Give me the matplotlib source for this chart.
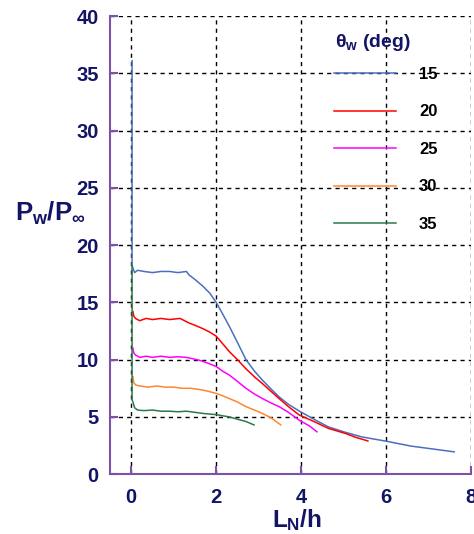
import matplotlib
matplotlib.use("Agg")
import matplotlib.pyplot as plt

plt.rcParams['font.family'] = ['Liberation Sans', 'DejaVu Sans']
plt.rcParams['mathtext.fontset'] = 'custom'
plt.rcParams['mathtext.rm'] = 'Liberation Sans:bold'
plt.rcParams['mathtext.it'] = 'Liberation Sans:bold'
plt.rcParams['mathtext.bf'] = 'Liberation Sans:bold'

# --- data (x = L_N/h, y = Pw/Pinf) ---
x15 = [0.02, 0.02, 0.04, 0.08, 0.15, 0.3, 0.5, 0.7, 0.9, 1.1, 1.3, 1.36, 1.5, 1.69, 1.85, 2.0,
       2.15, 2.31, 2.5, 2.70, 2.9, 3.09, 3.3, 3.48, 3.7, 3.96, 4.3, 4.64, 5.0, 5.42, 6.0, 6.59, 7.1, 7.6]
y15 = [36.1, 18.3, 18.0, 17.6, 17.8, 17.7, 17.6, 17.7, 17.7, 17.6, 17.7, 17.4, 17.0, 16.4, 15.8, 15.0,
       14.0, 12.9, 11.5, 10.0, 9.0, 8.2, 7.4, 6.75, 6.1, 5.5, 4.8, 4.13, 3.7, 3.26, 2.88, 2.45, 2.2, 1.95]

x20 = [0.04, 0.06, 0.1, 0.2, 0.35, 0.5, 0.7, 0.9, 1.15, 1.36, 1.5, 1.69, 1.85, 2.0, 2.15,
       2.31, 2.5, 2.7, 2.9, 3.09, 3.3, 3.48, 3.7, 3.96, 4.3, 4.64, 5.03, 5.3, 5.57]
y20 = [14.2, 13.8, 13.6, 13.4, 13.6, 13.5, 13.6, 13.5, 13.6, 13.2, 13.0, 12.7, 12.4, 12.05, 11.4,
       10.7, 10.0, 9.2, 8.5, 7.9, 7.2, 6.6, 5.9, 5.15, 4.6, 4.0, 3.57, 3.2, 2.9]

x25 = [0.04, 0.06, 0.1, 0.2, 0.35, 0.5, 0.7, 0.9, 1.1, 1.3, 1.6, 1.8, 2.0, 2.15, 2.31,
       2.5, 2.7, 2.9, 3.09, 3.3, 3.48, 3.7, 3.96, 4.2, 4.37]
y25 = [11.0, 10.6, 10.4, 10.2, 10.3, 10.2, 10.3, 10.2, 10.25, 10.2, 9.95, 9.7, 9.4, 9.0, 8.65,
       8.1, 7.5, 7.0, 6.6, 6.2, 5.9, 5.4, 4.7, 4.2, 3.7]

x30 = [0.04, 0.06, 0.1, 0.2, 0.4, 0.6, 0.8, 1.0, 1.2, 1.4, 1.6, 1.8, 2.0, 2.15, 2.31,
       2.5, 2.70, 2.9, 3.09, 3.3, 3.52]
y30 = [8.5, 8.0, 7.8, 7.7, 7.6, 7.7, 7.6, 7.6, 7.5, 7.5, 7.4, 7.25, 7.05, 6.85, 6.6,
       6.3, 5.9, 5.6, 5.3, 4.9, 4.3]

x35 = [0.02, 0.02, 0.04, 0.08, 0.15, 0.3, 0.5, 0.7, 0.9, 1.1, 1.3, 1.5, 1.7, 2.0, 2.15,
       2.31, 2.5, 2.7, 2.89]
y35 = [18.2, 6.5, 6.3, 5.8, 5.6, 5.55, 5.6, 5.5, 5.5, 5.45, 5.5, 5.4, 5.3, 5.2, 5.1,
       5.0, 4.8, 4.6, 4.3]

labels = ["15", "20", "25", "30", "35"]
colors = ["#4a6fc0", "#ff0000", "#ff00ff", "#ff8533", "#2a7a4a"]

xticks = [0, 2, 4, 6, 8]
yticks = [0, 5, 10, 15, 20, 25, 30, 35, 40]

navy = "#141466"
purple = "#7b52a6"

fig = plt.figure(figsize=(4.74, 5.34), dpi=100)
ax = fig.add_axes([0.232, 0.112, 0.762, 0.858])

series = [(x15, y15), (x20, y20), (x25, y25), (x30, y30), (x35, y35)]
for (xs, ys), lab, c in zip(series, labels, colors):
    ax.plot(xs, ys, color=c, lw=1.1, label=lab)

ax.set_xlim(-0.5, 8)
ax.set_ylim(0, 40)
ax.set_xticks(xticks)
ax.set_yticks(yticks)

# grid
ax.grid(True, color="black", linestyle=(0, (3, 3)), linewidth=1.0)
ax.set_axisbelow(True)

for s in ["top", "right"]:
    ax.spines[s].set_visible(False)
for s in ["left", "bottom"]:
    ax.spines[s].set_color(purple)
    ax.spines[s].set_linewidth(1.5)

ax.tick_params(direction="in", length=6, width=1.5, color=purple,
               labelsize=14.5, labelcolor=navy, pad=8)
ax.tick_params(axis="x", pad=10)
for t in ax.get_xticklabels() + ax.get_yticklabels():
    t.set_fontweight("bold")

ax.set_ylabel(r"$P_w/P_\infty$", fontsize=18.5, color=navy, rotation=0,
              ha="center", va="center")
ax.yaxis.set_label_coords(-0.166, 0.57)
ax.set_xlabel(r"$L_N/h$", fontsize=17.5, color=navy, va="top")
ax.xaxis.set_label_coords(0.518, -0.072)

# legend entries, title drawn as its own text
leg = ax.legend(loc="upper left", bbox_to_anchor=(0.62, 0.889), frameon=False,
                handlelength=3.7, handletextpad=1.4, labelspacing=1.35,
                borderpad=0, borderaxespad=0,
                prop={"weight": "bold", "size": 12})
ax.text(0.623, 0.943, r"$\theta_w$ (deg)", transform=ax.transAxes,
        fontsize=14, fontweight="bold", color=navy, ha="left", va="center")

fig.savefig("out.png", dpi=100)
